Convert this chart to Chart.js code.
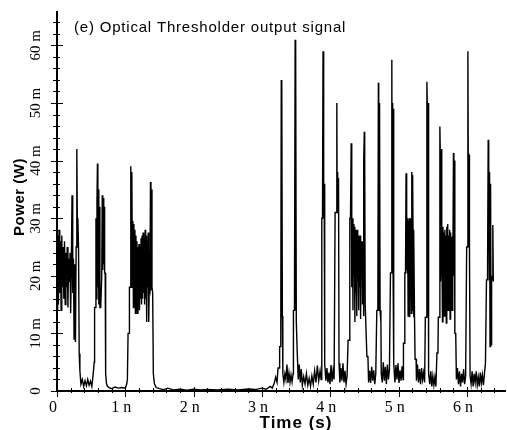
<!DOCTYPE html>
<html>
<head>
<meta charset="utf-8">
<script src="https://cdn.jsdelivr.net/npm/chart.js@4/dist/chart.umd.min.js"></script>
<style>
  html, body { margin: 0; padding: 0; background: #fff; }
  canvas { display: block; }
</style>
</head>
<body>
<canvas id="chart" width="507" height="430"></canvas>
<script>
// time in ns, power in mW

// first two bursts
const burst1Time = [0, 0.01, 0.02, 0.03, 0.04, 0.05, 0.06, 0.07, 0.08, 0.09, 0.10, 0.11, 0.12, 0.13, 0.14, 0.15, 0.16, 0.17, 0.18, 0.19, 0.20, 0.21, 0.22, 0.23, 0.24, 0.25, 0.26, 0.27, 0.28, 0.29, 0.30, 0.305, 0.315, 0.325, 0.335, 0.35,
  0.37, 0.39, 0.41, 0.43, 0.45, 0.47, 0.49, 0.51, 0.53, 0.545, 0.55, 0.565, 0.57, 0.578, 0.585, 0.592, 0.598, 0.605, 0.612, 0.62, 0.628, 0.64, 0.655, 0.662, 0.67, 0.677, 0.684, 0.69, 0.697, 0.705, 0.712, 0.725, 0.74,
  0.76, 0.8, 0.85, 0.9, 0.95, 1.0];
const burst1Power = [14, 27, 15, 28, 17, 26, 14, 27, 18, 25, 16, 26, 15, 24, 18, 25, 14.5, 23, 19, 24, 13.5, 22, 34, 17, 23, 9, 22, 8.5, 25, 42, 25, 30, 25, 6.5, 3.5, 1.2,
  2, 0.8, 1.8, 0.9, 2, 1, 1.7, 0.8, 3, 5, 14.5, 14.5, 30, 16, 33, 39.5, 18, 35, 15, 32, 14.5, 14.5, 20, 34, 21, 33.5, 22, 32, 20.5, 20.5, 3, 1.2, 0.8,
  0.6, 0.4, 0.7, 0.5, 0.6, 0.5];

// third burst
const burst2Time = [1.02, 1.03, 1.04, 1.055, 1.06, 1.075, 1.08, 1.088, 1.095, 1.103, 1.11, 1.118, 1.125, 1.132, 1.14, 1.147, 1.155, 1.162, 1.17, 1.177, 1.185, 1.192, 1.2, 1.207, 1.215, 1.222, 1.23, 1.237, 1.245, 1.252, 1.26, 1.267, 1.275, 1.282, 1.29, 1.297, 1.305, 1.312, 1.32, 1.327, 1.335, 1.342, 1.35, 1.36, 1.368, 1.375, 1.383, 1.39, 1.4, 1.41, 1.425, 1.45];
const burst2Power = [1.2, 2, 10, 10, 18, 18, 39, 18, 38, 19, 29.5, 14.5, 29, 15, 28, 13.5, 27, 14, 26, 13.5, 25, 15, 25.5, 14, 25, 16, 26.5, 15, 27, 16, 27.5, 17, 27, 15, 28, 16, 27, 12, 26, 18, 27.5, 12, 18, 17.5, 36.3, 17.5, 35, 18, 17, 3, 1.3, 0.6];

// quiet stretch
const quietTime = [1.5, 1.56, 1.62, 1.7, 1.8, 1.9, 2.0, 2.1, 2.2, 2.35, 2.5, 2.65, 2.8, 2.9, 3.0, 3.06, 3.12];
const quietPower = [0.4, 0.25, 0.5, 0.2, 0.3, 0.15, 0.3, 0.2, 0.25, 0.2, 0.3, 0.2, 0.35, 0.25, 0.5, 0.3, 0.8];

// 3.2n - 4.6n
const burst3Time = [3.15, 3.18, 3.2, 3.22, 3.235, 3.25, 3.258, 3.27, 3.275, 3.282, 3.287, 3.292, 3.298, 3.305, 3.32, 3.335, 3.35, 3.365, 3.38, 3.395, 3.41, 3.425, 3.44, 3.455,
  3.46, 3.475, 3.485, 3.49, 3.495, 3.502, 3.51, 3.515, 3.525, 3.53, 3.545, 3.56, 3.575, 3.59, 3.61, 3.63, 3.65, 3.67, 3.69, 3.71, 3.73, 3.75, 3.77, 3.79, 3.81, 3.83, 3.85, 3.865,
  3.875, 3.885, 3.893, 3.9, 3.905, 3.91, 3.915, 3.92, 3.935, 3.95, 3.965, 3.98, 3.995, 4.01, 4.025, 4.04, 4.055,
  4.07, 4.085, 4.095, 4.1, 4.107, 4.113, 4.12, 4.127, 4.14, 4.155, 4.17, 4.185, 4.2, 4.215, 4.23, 4.245,
  4.26, 4.275, 4.285, 4.295, 4.305, 4.31, 4.317, 4.324, 4.331, 4.338, 4.345, 4.352, 4.359, 4.366, 4.373, 4.38, 4.387, 4.394, 4.401, 4.408, 4.415, 4.422, 4.429, 4.436, 4.443, 4.45, 4.457, 4.464, 4.471, 4.478, 4.485, 4.492, 4.497, 4.503, 4.51, 4.52, 4.535, 4.55, 4.56];
const burst3Power = [0.5, 1.4, 2.4, 1.5, 4, 4, 7.7, 7.7, 12.8, 54, 12.8, 53, 13, 3, 1.5, 3, 2, 4.6, 1.4, 3.1, 1.5, 2.8, 1.6, 3,
  14, 14, 61, 14, 60, 12, 12, 7, 7, 2, 4.6, 1.5, 3.8, 1, 2.5, 1.2, 3, 1, 2.2, 0.8, 2.6, 1.2, 3.5, 1.5, 4.4, 1.8, 3.5, 2,
  30, 30, 59, 36, 30, 36, 30, 4.8, 1.8, 4, 1.5, 3.2, 1.2, 4.5, 1.6, 3.5, 2,
  31, 31, 50, 32, 38, 31, 37, 4.8, 1.5, 4, 1.8, 4.8, 1.5, 3.5, 1.2, 2.6,
  8.8, 8.8, 30, 30, 43, 29, 18, 30, 14, 29, 20, 28.5, 12, 28, 17, 27.5, 13, 28, 19, 27, 14, 26.5, 18, 27, 12.5, 26, 20, 26, 15, 25, 13, 40, 45, 40, 15, 15, 6, 6, 1.5];

// 4.6n - 5.6n
const burst4Time = [4.575, 4.59, 4.605, 4.62, 4.635, 4.65, 4.665, 4.68, 4.695, 4.703, 4.708, 4.713, 4.72, 4.728, 4.74, 4.745, 4.76, 4.775, 4.79, 4.805, 4.82, 4.835, 4.85, 4.865,
  4.88, 4.893, 4.9, 4.905, 4.912, 4.918, 4.925, 4.93, 4.945, 4.96, 4.975, 4.99, 5.005, 5.02, 5.035, 5.05, 5.065,
  5.07, 5.085, 5.09, 5.1, 5.108, 5.114, 5.12, 5.126, 5.132, 5.138, 5.144, 5.15, 5.156, 5.162, 5.168, 5.174, 5.18, 5.186, 5.192, 5.198, 5.204, 5.21, 5.216, 5.224, 5.232, 5.24, 5.255,
  5.26, 5.275, 5.29, 5.305, 5.32, 5.335, 5.35, 5.365, 5.38, 5.39, 5.405, 5.413, 5.418, 5.424, 5.43, 5.436, 5.44, 5.455, 5.47, 5.485, 5.5, 5.515, 5.53, 5.545, 5.56, 5.575, 5.58, 5.595];
const burst4Power = [3.5, 1.4, 4.2, 1.8, 3.6, 1.2, 3, 14, 14, 53.5, 50, 14, 50, 14, 12, 3, 1.5, 5, 1.8, 4.2, 1.2, 4.6, 2, 3.8,
  20.5, 20.5, 57.5, 22, 50, 21, 49, 4.8, 1.5, 4.5, 2, 4.8, 1.4, 3.6, 1.8, 4.3, 2,
  8.3, 8.3, 20.5, 20.5, 37.8, 21, 31, 20.5, 30, 13, 29.5, 15, 30, 12.8, 29, 16, 30, 13.5, 38, 14, 37.5, 28, 12.8, 28, 12.8, 5.5, 5.5,
  1.8, 4.6, 1.5, 3.8, 1.2, 4, 2, 3.2, 1.5, 12.8, 12.8, 53.7, 50, 13, 50, 12.8, 3, 1.2, 3.4, 0.8, 2.6, 1, 2.4, 0.8, 6.6, 6.6, 12.8, 12.8];

// 5.6n - end
const burst5Time = [5.603, 5.608, 5.614, 5.62, 5.627, 5.634, 5.641, 5.648, 5.655, 5.662, 5.669, 5.676, 5.683, 5.69, 5.697, 5.704, 5.711, 5.718, 5.725, 5.732, 5.739, 5.746, 5.753, 5.76, 5.767, 5.774, 5.781, 5.788, 5.795, 5.802, 5.808, 5.815, 5.822, 5.835,
  5.845, 5.86, 5.875, 5.89, 5.905, 5.92, 5.935, 5.95, 5.965, 5.98,
  5.995, 6.005, 6.013, 6.018, 6.024, 6.03, 6.036, 6.045, 6.06, 6.075, 6.09, 6.105, 6.12, 6.135, 6.15, 6.165, 6.18, 6.195, 6.21, 6.225, 6.24, 6.255,
  6.27, 6.285, 6.3, 6.31, 6.318, 6.325, 6.33, 6.337, 6.345, 6.352, 6.36, 6.37, 6.378, 6.385];
const burst5Power = [45.9, 42, 19, 42, 20, 29, 12, 28.5, 19.8, 27.5, 13, 28, 18, 27, 11.8, 28.5, 19, 29, 14, 27, 20, 28, 12.5, 27.5, 18, 26.8, 14, 27, 19, 41.3, 20, 40, 10, 10,
  2, 4, 1.2, 3.4, 0.8, 3, 1.5, 3.8, 1.2, 2.6,
  25, 25, 59, 41.3, 25, 41, 25, 2.6, 1.2, 3.4, 0.8, 3, 1.5, 3.4, 1, 2.4, 0.8, 3.2, 1.4, 2.8, 1, 3,
  4.8, 19.3, 19.3, 43.6, 38, 19.3, 38, 7.7, 36, 8, 20, 19.3, 28.8, 19];

// axes
const xMaxNs = 6.556;
const yMaxMW = 65.8;
const xTickNs = [0, 1, 2, 3, 4, 5, 6];
const xTickLabels = ['0', '1 n', '2 n', '3 n', '4 n', '5 n', '6 n'];
const yTickMW = [0, 10, 20, 30, 40, 50, 60];
const yTickLabels = ['0', '10 m', '20 m', '30 m', '40 m', '50 m', '60 m'];

const times = [].concat(burst1Time, burst2Time, quietTime, burst3Time, burst4Time, burst5Time);
const powers = [].concat(burst1Power, burst2Power, quietPower, burst3Power, burst4Power, burst5Power);
const points = times.map((t, i) => ({ x: t, y: powers[i] }));

// ticks, tick labels and titles drawn the way the scope software does it
const decor = {
  id: 'decor',
  afterDraw(chart) {
    const ctx = chart.ctx;
    const a = chart.chartArea;
    const xs = chart.scales.x;
    const ys = chart.scales.y;
    ctx.save();
    ctx.strokeStyle = '#000';
    ctx.fillStyle = '#000';
    ctx.lineWidth = 1;

    // y minor / major ticks
    for (let v = 0; v <= yMaxMW; v += 2) {
      const py = Math.round(ys.getPixelForValue(v)) + 0.5;
      const major = v % 10 === 0;
      ctx.beginPath();
      ctx.moveTo(a.left - (major ? 6 : 4), py);
      ctx.lineTo(a.left + (major ? 6 : 3), py);
      ctx.stroke();
    }
    // x minor / major ticks
    for (let k = 0; k * 0.2 <= xMaxNs; k++) {
      const px = Math.round(xs.getPixelForValue(k * 0.2)) + 0.5;
      const major = k % 5 === 0;
      ctx.beginPath();
      ctx.moveTo(px, a.bottom - (major ? 4 : 3));
      ctx.lineTo(px, a.bottom + (major ? 6 : 2));
      ctx.stroke();
    }

    // y tick labels, rotated
    ctx.font = '15px "Liberation Serif"';
    ctx.textAlign = 'center';
    ctx.textBaseline = 'middle';
    yTickMW.forEach((v, i) => {
      const py = ys.getPixelForValue(v);
      ctx.save();
      ctx.translate(36, py);
      ctx.rotate(-Math.PI / 2);
      ctx.fillText(yTickLabels[i], 0, 0);
      ctx.restore();
    });

    // x tick labels
    ctx.font = '16px "Liberation Serif"';
    xTickNs.forEach((v, i) => {
      ctx.fillText(xTickLabels[i], xs.getPixelForValue(v) - 4, 408);
    });

    // axis titles
    ctx.font = 'bold 17px "Liberation Sans"';
    ctx.letterSpacing = '1px';
    ctx.fillText('Time (s)', 296, 423);
    ctx.save();
    ctx.translate(20, 197);
    ctx.rotate(-Math.PI / 2);
    ctx.font = 'bold 15px "Liberation Sans"';
    ctx.letterSpacing = '0.5px';
    ctx.fillText('Power (W)', 0, 0);
    ctx.restore();

    // header inside the plot
    ctx.textAlign = 'left';
    ctx.font = '15px "Liberation Sans"';
    ctx.letterSpacing = '0.8px';
    ctx.fillText('(e) Optical Thresholder output signal', 74, 28);
    ctx.restore();
  }
};

new Chart(document.getElementById('chart').getContext('2d'), {
  type: 'line',
  data: {
    datasets: [{
      data: points,
      borderColor: '#000',
      borderWidth: 1.4,
      pointRadius: 0,
      fill: false,
      tension: 0
    }]
  },
  options: {
    responsive: false,
    animation: false,
    layout: { padding: { top: 12, right: 2, left: 0, bottom: 0 } },
    plugins: {
      legend: { display: false },
      tooltip: { enabled: false }
    },
    scales: {
      x: {
        type: 'linear',
        min: 0,
        max: xMaxNs,
        grid: { drawOnChartArea: false, drawTicks: false },
        border: { color: '#000', width: 2 },
        ticks: { display: false },
        afterFit: s => { s.height = 39; }
      },
      y: {
        min: 0,
        max: yMaxMW,
        grid: { drawOnChartArea: false, drawTicks: false },
        border: { color: '#000', width: 2 },
        ticks: { display: false },
        afterFit: s => { s.width = 57; }
      }
    }
  },
  plugins: [decor]
});
</script>
</body>
</html>
